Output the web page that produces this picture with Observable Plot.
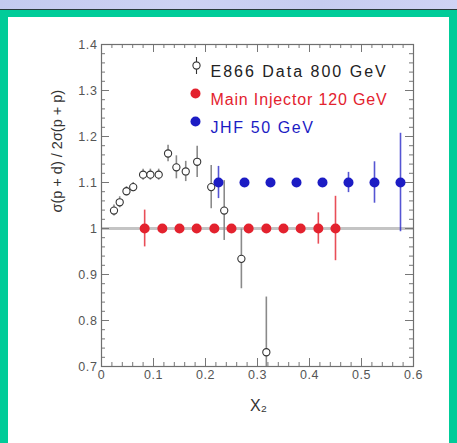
<!DOCTYPE html>
<html>
<head>
<meta charset="utf-8">
<script src="https://cdn.jsdelivr.net/npm/d3@7"></script>
<script src="https://cdn.jsdelivr.net/npm/@observablehq/plot@0.6"></script>
<style>
  html, body { margin: 0; padding: 0; width: 457px; height: 443px; overflow: hidden; background: #ffffff; }
  #band { position: absolute; left: 0; top: 0; width: 457px; height: 9px; background: linear-gradient(90deg, #c3caef, #cdd2f3 40%, #c6ccf0 70%, #cfd3f4); }
  #line { position: absolute; left: 0; top: 9px; width: 457px; height: 1px; background: #2a3a3a; }
  #green { position: absolute; left: 0; top: 10px; width: 457px; height: 433px; background: #00cc99; }
  #panel { position: absolute; left: 8px; top: 17px; width: 441px; height: 426px; background: #ffffff; }
  #chart { position: absolute; left: 8px; top: 17px; }
</style>
</head>
<body>
<div id="band"></div>
<div id="line"></div>
<div id="green"></div>
<div id="panel"></div>
<div id="chart"></div>
<script>
// E866 Data 800 GeV
const e866X   = [0.024, 0.035, 0.048, 0.061, 0.080, 0.094, 0.110, 0.128, 0.144, 0.162, 0.184, 0.211, 0.236, 0.269, 0.317];
const e866Y   = [1.039, 1.057, 1.081, 1.090, 1.117, 1.117, 1.117, 1.163, 1.133, 1.124, 1.145, 1.090, 1.039, 0.934, 0.731];
const e866Err = [0.012, 0.012, 0.010, 0.010, 0.012, 0.012, 0.012, 0.018, 0.025, 0.022, 0.034, 0.047, 0.065, 0.065, 0.120];
// Main Injector 120 GeV
const miX   = [0.083, 0.117, 0.150, 0.183, 0.217, 0.250, 0.283, 0.317, 0.350, 0.383, 0.417, 0.450];
const miY   = [1, 1, 1, 1, 1, 1, 1, 1, 1, 1, 1, 1];
const miErr = [0.040, 0.005, 0.005, 0.005, 0.005, 0.005, 0.005, 0.005, 0.005, 0.008, 0.034, 0.070];
// JHF 50 GeV
const jhfX   = [0.225, 0.275, 0.325, 0.375, 0.425, 0.475, 0.525, 0.575];
const jhfY   = [1.1, 1.1, 1.1, 1.1, 1.1, 1.1, 1.1, 1.1];
const jhfErr = [0.035, 0.005, 0.005, 0.005, 0.005, 0.022, 0.045, 0.107];

const xTicks = [0, 0.1, 0.2, 0.3, 0.4, 0.5, 0.6];
const xTickLabels = ["0", "0.1", "0.2", "0.3", "0.4", "0.5", "0.6"];
const yTicks = [0.7, 0.8, 0.9, 1, 1.1, 1.2, 1.3, 1.4];
const yTickLabels = ["0.7", "0.8", "0.9", "1", "1.1", "1.2", "1.3", "1.4"];
const refLine = [1];

const legendLabels = ["E866 Data 800 GeV", "Main Injector 120 GeV", "JHF 50 GeV"];
const legendColors = ["#222222", "#e3222e", "#1c1cc4"];
const legendSpacing = ["2px", "0.85px", "1.6px"];

const yTitle = "σ(p + d) / 2σ(p + p)";
const xTitle = "X₂";

const zip = (xs, ys, es) => xs.map((x, i) => ({x, y: ys[i], e: es[i]}));
const e866 = zip(e866X, e866Y, e866Err);
const mi = zip(miX, miY, miErr);
const jhf = zip(jhfX, jhfY, jhfErr);

const xMinor = d3.range(0, 0.6001, 0.02);
const yMinor = d3.range(0.7, 1.4001, 0.02);

const W = 441, H = 426;
const mL = 93, mR = 36, mT = 27, mB = 77;
const iw = W - mL - mR, ih = H - mT - mB;
const tickCol = "#777";

const openCircleBar = {
  draw(ctx, size) {
    const r = Math.sqrt(size / Math.PI);
    ctx.moveTo(0, -r - 5); ctx.lineTo(0, -r);
    ctx.moveTo(0, r); ctx.lineTo(0, r + 5);
    ctx.moveTo(r, 0); ctx.arc(0, 0, r, 0, 2 * Math.PI);
  }
};

const legendMarks = [];
legendLabels.forEach((lab, i) => {
  const dy = 21 + 28 * i;
  if (i === 0) {
    legendMarks.push(Plot.dot([lab], {frameAnchor: "top-left", dx: 95, dy, r: 3.6, symbol: openCircleBar, stroke: "#333", fill: "white", strokeWidth: 1.1}));
  } else {
    legendMarks.push(Plot.dot([lab], {frameAnchor: "top-left", dx: 94, dy, r: 5, fill: legendColors[i]}));
  }
  legendMarks.push(Plot.text([lab], {frameAnchor: "top-left", dx: 109, dy, text: d => d, textAnchor: "start", fill: legendColors[i], fontSize: 16}));
});

const chart = Plot.plot({
  width: W, height: H,
  marginLeft: mL, marginRight: mR, marginTop: mT, marginBottom: mB,
  style: {fontFamily: "'Liberation Sans', Arial, sans-serif", background: "transparent"},
  x: {domain: [0, 0.6], axis: null},
  y: {domain: [0.7, 1.4], axis: null},
  marks: [
    Plot.ruleY(refLine, {y: d => d, stroke: "#c4c4c4", strokeWidth: 3}),
    // minor ticks
    Plot.ruleX(xMinor, {x: d => d, insetTop: ih - 4, stroke: tickCol}),
    Plot.ruleX(xMinor, {x: d => d, insetBottom: ih - 4, stroke: tickCol}),
    Plot.ruleY(yMinor, {y: d => d, insetRight: iw - 4, stroke: tickCol}),
    Plot.ruleY(yMinor, {y: d => d, insetLeft: iw - 4, stroke: tickCol}),
    // major ticks
    Plot.ruleX(xTicks, {x: d => d, insetTop: ih - 8, stroke: tickCol}),
    Plot.ruleX(xTicks, {x: d => d, insetBottom: ih - 8, stroke: tickCol}),
    Plot.ruleY(yTicks, {y: d => d, insetRight: iw - 8, stroke: tickCol}),
    Plot.ruleY(yTicks, {y: d => d, insetLeft: iw - 8, stroke: tickCol}),
    Plot.frame({stroke: "#6f6f6f", strokeWidth: 1.2}),
    // tick labels
    Plot.text(xTicks, {x: d => d, frameAnchor: "bottom", dy: 12, text: (d, i) => xTickLabels[i], fontSize: 12.5, fill: "#555"}),
    Plot.text(yTicks, {y: d => d, frameAnchor: "left", dx: -4, textAnchor: "end", text: (d, i) => yTickLabels[i], fontSize: 12.5, fill: "#555"}),
    // error bars
    Plot.ruleX(e866, {x: "x", y1: d => d.y - d.e, y2: d => d.y + d.e, stroke: "#8a8a8a", strokeWidth: 1.6, clip: true}),
    Plot.ruleX(mi, {x: "x", y1: d => d.y - d.e, y2: d => d.y + d.e, stroke: "#e3222e", strokeWidth: 1.6, strokeOpacity: 0.8}),
    Plot.ruleX(jhf, {x: "x", y1: d => d.y - d.e, y2: d => d.y + d.e, stroke: "#2a2ac8", strokeWidth: 1.6, strokeOpacity: 0.8}),
    // points
    Plot.dot(e866, {x: "x", y: "y", r: 3.6, stroke: "#333", fill: "white", strokeWidth: 1.1}),
    Plot.dot(mi, {x: "x", y: "y", r: 5, fill: "#e3222e"}),
    Plot.dot(jhf, {x: "x", y: "y", r: 5, fill: "#1c1cc4"}),
    ...legendMarks,
    // axis titles
    Plot.text([yTitle], {frameAnchor: "left", text: d => d, rotate: -90, dx: -44, dy: 7, fontSize: 14.5, fill: "#333"}),
    Plot.text([xTitle], {frameAnchor: "bottom", text: d => d, dx: 1, dy: 44, fontSize: 16, fill: "#333"})
  ]
});
document.getElementById("chart").appendChild(chart);
// widen letter spacing to match the reference's wide lettering
d3.select(chart).selectAll("text")
  .filter(function() { return legendLabels.includes(this.textContent); })
  .attr("letter-spacing", function() { return legendSpacing[legendLabels.indexOf(this.textContent)]; });
d3.select(chart).selectAll("text")
  .filter(function() { return xTickLabels.includes(this.textContent) || yTickLabels.includes(this.textContent); })
  .attr("letter-spacing", "0.6px");
</script>
</body>
</html>
